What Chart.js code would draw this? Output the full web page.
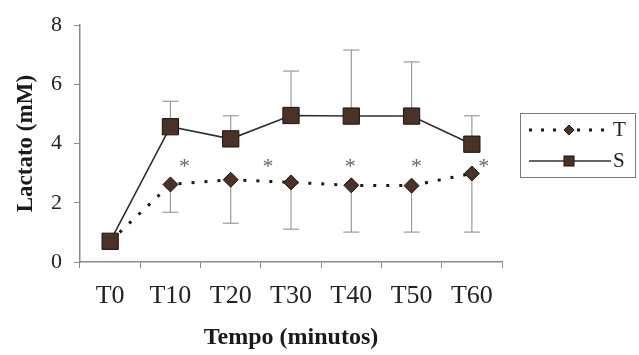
<!DOCTYPE html>
<html lang="pt">
<head>
<meta charset="UTF-8" />
<title>Lactato</title>
<script src="https://cdn.jsdelivr.net/npm/chart.js"></script>
<style>
  html, body { margin: 0; padding: 0; background: #fff; }
  .wrap { width: 639px; height: 355px; }
</style>
</head>
<body>
<div class="wrap"><canvas id="lactChart" width="639" height="355"></canvas></div>
<script>
const tempos = ['T0', 'T10', 'T20', 'T30', 'T40', 'T50', 'T60'];
const lactatoT = [0.7, 2.62, 2.78, 2.69, 2.59, 2.58, 2.99];
const lactatoS = [0.7, 4.57, 4.16, 4.95, 4.93, 4.93, 3.98];
const desvioT = [0, 0.94, 1.47, 1.58, 1.58, 1.57, 1.98];   // drawn downward only
const desvioS = [0, 0.86, 0.78, 1.5, 2.23, 1.83, 0.96];   // drawn upward only
const asteriscos = ['', '*', '', '*', '*', '*', '*'];
const yTicks = [0, 2, 4, 6, 8];

const serif = '"Liberation Serif", "Times New Roman", serif';
const fill = '#4a3326';
const edge = '#1c120c';

// pixel nudges for the asterisks, as placed in the original figure
const astOffset = [0, 14, 0, -23, -1, 5, 12];
const astLevel = 3.3;

const errorBars = {
  id: 'errorBars',
  beforeDatasetsDraw(chart) {
    const { ctx, scales: { x, y } } = chart;
    const cap = 8;
    ctx.save();
    ctx.strokeStyle = '#9a9a9a';
    ctx.lineWidth = 1.2;
    const seg = (x1, y1, x2, y2) => {
      ctx.beginPath(); ctx.moveTo(x1, y1); ctx.lineTo(x2, y2); ctx.stroke();
    };
    tempos.forEach((t, i) => {
      const px = x.getPixelForValue(i);
      if (desvioS[i] > 0) {
        const y0 = y.getPixelForValue(lactatoS[i]);
        const y1 = y.getPixelForValue(lactatoS[i] + desvioS[i]);
        seg(px, y0, px, y1);
        seg(px - cap, y1, px + cap, y1);
      }
      if (desvioT[i] > 0) {
        const y0 = y.getPixelForValue(lactatoT[i]);
        const y1 = y.getPixelForValue(lactatoT[i] - desvioT[i]);
        seg(px, y0, px, y1);
        seg(px - cap, y1, px + cap, y1);
      }
    });
    ctx.restore();
  }
};

function diamond(ctx, cx, cy, r) {
  ctx.beginPath();
  ctx.moveTo(cx, cy - r); ctx.lineTo(cx + r, cy);
  ctx.lineTo(cx, cy + r); ctx.lineTo(cx - r, cy);
  ctx.closePath(); ctx.fill(); ctx.stroke();
}

const extras = {
  id: 'extras',
  afterDraw(chart) {
    const { ctx, scales: { x, y } } = chart;
    ctx.save();
    // asterisks
    ctx.fillStyle = '#666';
    ctx.font = '22px ' + serif;
    ctx.textAlign = 'center';
    ctx.textBaseline = 'middle';
    asteriscos.forEach((a, i) => {
      if (!a) return;
      ctx.fillText(a, x.getPixelForValue(i) + astOffset[i], y.getPixelForValue(astLevel) + 3);
    });

    // legend box
    ctx.strokeStyle = '#7a7a7a';
    ctx.lineWidth = 1;
    ctx.strokeRect(520.5, 113.5, 115, 64);

    // T row
    ctx.strokeStyle = '#1a1a1a';
    ctx.lineWidth = 3;
    ctx.setLineDash([3, 9]);
    ctx.beginPath(); ctx.moveTo(529, 130); ctx.lineTo(611, 130); ctx.stroke();
    ctx.setLineDash([]);
    ctx.fillStyle = fill; ctx.strokeStyle = edge; ctx.lineWidth = 1;
    diamond(ctx, 569, 130, 5);

    // S row
    ctx.strokeStyle = '#333';
    ctx.lineWidth = 1.5;
    ctx.beginPath(); ctx.moveTo(529, 161); ctx.lineTo(611, 161); ctx.stroke();
    ctx.fillStyle = fill; ctx.strokeStyle = edge; ctx.lineWidth = 1;
    ctx.fillRect(564, 156, 10, 10); ctx.strokeRect(564, 156, 10, 10);

    ctx.fillStyle = '#222';
    ctx.font = '21px ' + serif;
    ctx.textAlign = 'left';
    ctx.textBaseline = 'middle';
    ctx.fillText('T', 613, 130);
    ctx.fillText('S', 613, 161);
    ctx.restore();
  }
};

new Chart(document.getElementById('lactChart'), {
  type: 'line',
  data: {
    labels: tempos,
    datasets: [
      {
        label: 'S',
        data: lactatoS,
        borderColor: '#2e2e2e',
        borderWidth: 1.6,
        pointStyle: 'rect',
        pointRadius: 11.5,
        pointBackgroundColor: fill,
        pointBorderColor: edge,
        pointBorderWidth: 1,
        tension: 0
      },
      {
        label: 'T',
        data: lactatoT,
        borderColor: '#1a1a1a',
        borderWidth: 3,
        borderDash: [3, 10],
        pointStyle: 'rectRot',
        pointRadius: 7.5,
        pointBackgroundColor: fill,
        pointBorderColor: edge,
        pointBorderWidth: 1,
        tension: 0
      }
    ]
  },
  options: {
    responsive: false,
    animation: false,
    layout: { padding: { top: 24, right: 137, bottom: 0, left: 0 } },
    plugins: {
      legend: { display: false },
      tooltip: { enabled: false }
    },
    scales: {
      x: {
        offset: true,
        afterFit(scale) { scale.height = 93; },
        grid: { display: true, offset: true, drawOnChartArea: false, drawTicks: true, tickLength: 6, color: '#8a8a8a' },
        border: { color: '#8a8a8a', width: 1.5 },
        ticks: { color: '#222', padding: 13, font: { family: serif, size: 26 } },
        title: { display: true, text: 'Tempo (minutos)', color: '#1a1a1a', padding: { top: 0, bottom: 3 },
                 font: { family: serif, size: 24, weight: 'bold' } }
      },
      y: {
        min: 0,
        max: 8,
        afterFit(scale) { scale.width = 80; },
        afterBuildTicks(scale) { scale.ticks = yTicks.map(v => ({ value: v })); },
        grid: { display: true, drawOnChartArea: false, drawTicks: true, tickLength: 6, color: '#8a8a8a' },
        border: { color: '#8a8a8a', width: 1.5 },
        ticks: { color: '#222', padding: 12, font: { family: serif, size: 22 } },
        title: { display: true, text: 'Lactato (mM)', color: '#1a1a1a', padding: { top: 12, bottom: 0 },
                 font: { family: serif, size: 23, weight: 'bold' } }
      }
    }
  },
  plugins: [errorBars, extras]
});
</script>
</body>
</html>
